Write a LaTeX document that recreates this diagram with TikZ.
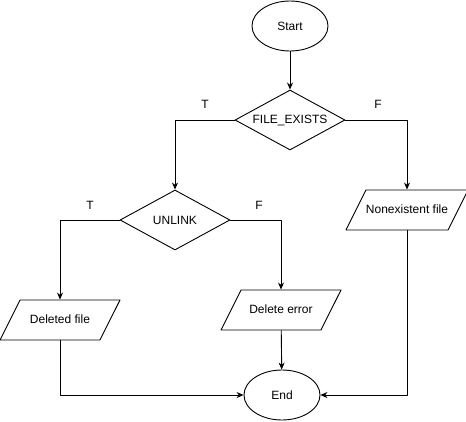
\documentclass[tikz,border=0pt]{standalone}
\usepackage{fontspec}
\setmainfont{Liberation Sans}
\usetikzlibrary{arrows.meta}
\usetikzlibrary{shapes.geometric}

\begin{document}
\begin{tikzpicture}[x=1pt, y=-1pt, line width=0.9pt, line cap=round, line join=round,
		every node/.style={font=\fontsize{12}{14}\selectfont},
		terminal/.style={draw, ellipse, minimum width=76pt, minimum height=50pt, inner sep=0pt},
		decision/.style={draw, diamond, aspect=1.83, minimum width=110pt, minimum height=60pt, inner sep=0pt},
		iobox/.style={draw, trapezium, trapezium left angle=63.4, trapezium right angle=116.6,
			trapezium stretches body=true, text height=9pt, text depth=3pt, inner ysep=14pt, inner xsep=0pt,
			minimum width=120pt, minimum height=40pt},
		flow/.style={-{Stealth[length=7pt, width=6pt]}},
		lbl/.style={inner sep=0pt}]
			\useasboundingbox (0,0) rectangle (466,421);
			
			% Start and first test
			\node[terminal] (start) at (290,26) {Start};
			\node[decision] (exists) at (290,120) {FILE\_EXISTS};
			\draw[flow] (start) -- (exists);
			
			% Second test
			\node[decision] (unlink) at (175,220) {UNLINK};
			
			% Outputs
			\node[iobox] (nofile) at (407,210) {Nonexistent file};
			\node[iobox] (deleted) at (60,320) {Deleted file};
			\node[iobox] (delerr) at (281,310) {Delete error};
			
			\node[terminal] (end) at (282,395) {End};
			
			% Branch labels
			\node[lbl] (t1) at (205,104) {T};
			\node[lbl] (f1) at (378,104) {F};
			\node[lbl] (t2) at (90,205) {T};
			\node[lbl] (f2) at (259,205) {F};
			
			% Branches
			\draw[flow] (exists.west) -| (unlink.north);
			\draw[flow] (exists.east) -| (nofile.north);
			\draw[flow] (unlink.west) -| (deleted.north);
			\draw[flow] (unlink.east) -| (delerr.north);
			
			% Joins to End
			\draw[flow] (delerr) -- (end);
			\draw[flow] (deleted.south) |- (end.west);
			\draw[flow] (nofile.south) |- (end.east);
		\end{tikzpicture}
\end{document}
